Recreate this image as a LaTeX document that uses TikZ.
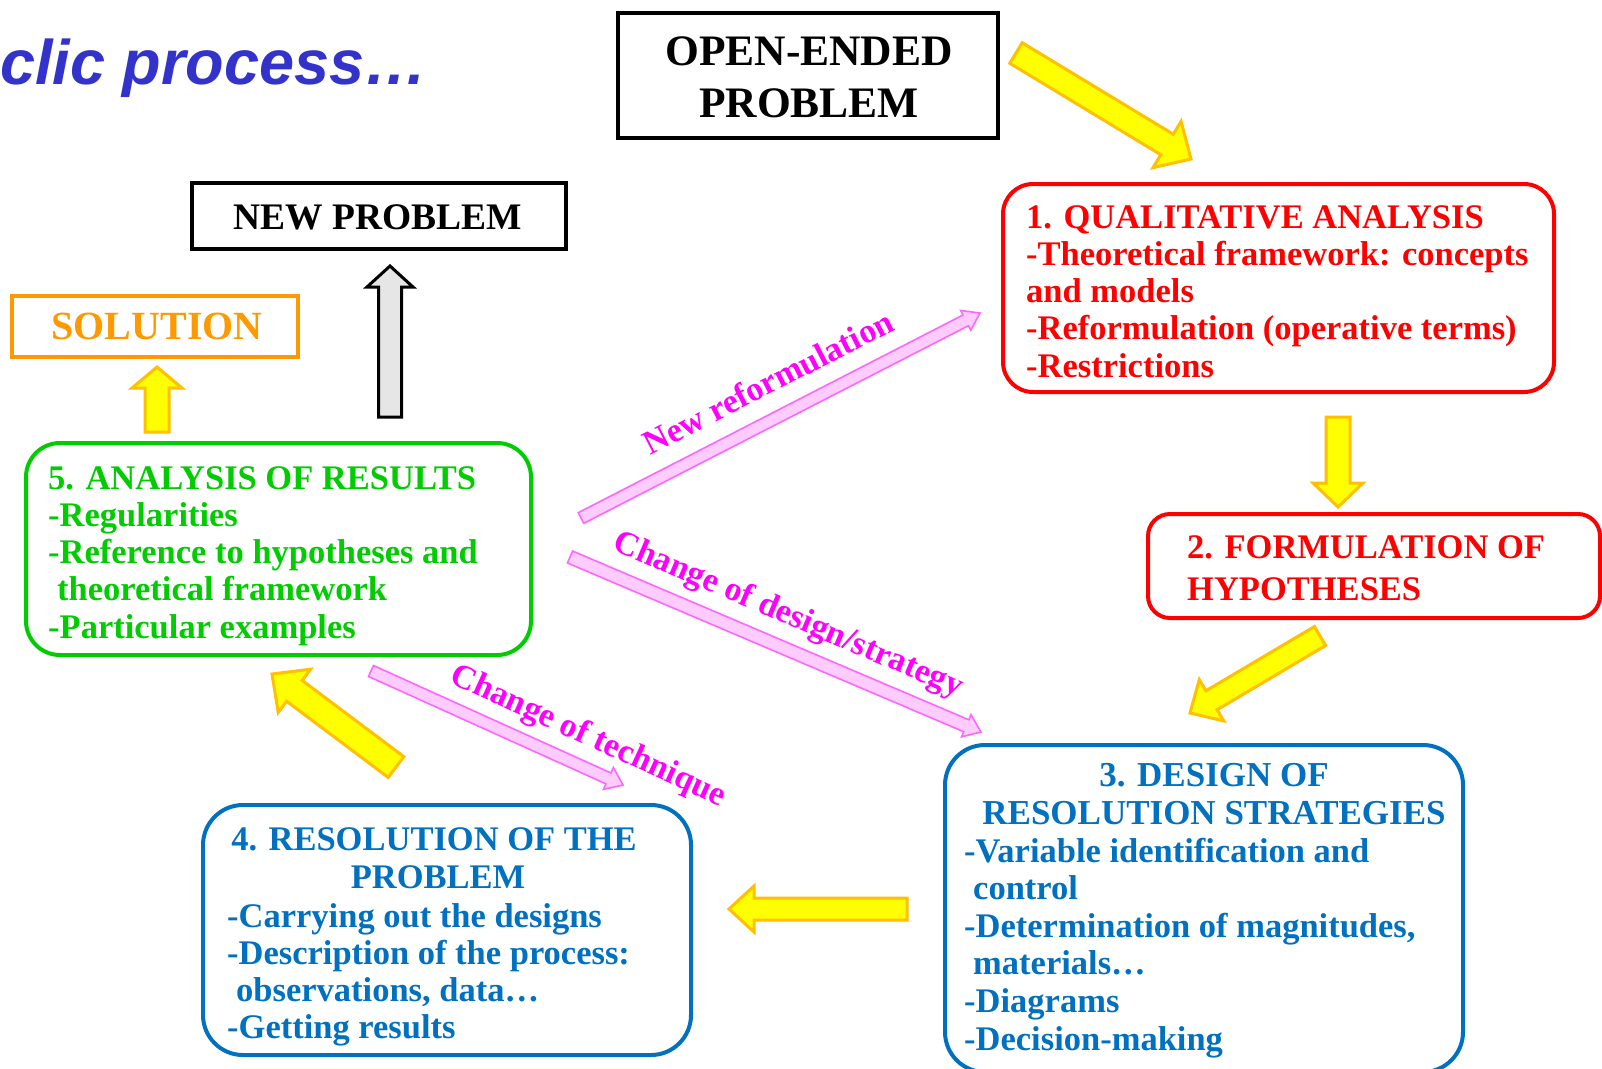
\documentclass[tikz,border=0pt]{standalone}
\usepackage{fontspec}
\setmainfont{Liberation Serif}
\newfontfamily\titlefont{Liberation Sans}
\usetikzlibrary{calc}
\definecolor{myred}{HTML}{FF0000}
\definecolor{myblue}{HTML}{0070C0}
\definecolor{mygreen}{HTML}{00CC00}
\definecolor{myorange}{HTML}{FF9900}
\definecolor{yelfill}{HTML}{FFFF00}
\definecolor{yeledge}{HTML}{FFC000}
\definecolor{pinkfill}{HTML}{FFCCFF}
\definecolor{pinkedge}{HTML}{FF66FF}
\definecolor{magtext}{HTML}{FF00FF}
\definecolor{titleblue}{HTML}{3333CC}
\definecolor{greyfill}{HTML}{E6E6E6}
% #1 style, #2 tail, #3 tip, #4 half shaft, #5 half head, #6 head length
\newcommand\blockarrow[6]{%
  \coordinate (tmpN) at ($(#3)!#6!(#2)$);
  \draw[#1] ($(#2)!#4!90:(#3)$) -- ($(tmpN)!#4!90:(#3)$) -- ($(tmpN)!#5!90:(#3)$)
    -- (#3) -- ($(tmpN)!#5!-90:(#3)$) -- ($(tmpN)!#4!-90:(#3)$) -- ($(#2)!#4!-90:(#3)$) -- cycle;
}
\begin{document}
\begin{tikzpicture}[x=1pt,y=-1pt,
  txt/.style={inner sep=0pt, font=\fontsize{34.5}{37.3}\selectfont\bfseries},
  hdr/.style={inner sep=0pt, font=\fontsize{43.5}{52}\selectfont\bfseries},
  plainbox/.style={draw, line width=3.5pt, inner sep=0pt},
  roundbox/.style={draw, line width=4pt, rounded corners=32pt, inner sep=0pt},
  yarrow/.style={fill=yelfill, draw=yeledge, line width=3pt, line join=miter},
  garrow/.style={fill=greyfill, draw=black, line width=3pt, line join=miter},
  parrow/.style={fill=pinkfill, draw=pinkedge, line width=1.6pt, line join=miter},
  plabel/.style={inner sep=0pt, text=magtext, font=\fontsize{34}{40}\selectfont\bfseries}
]
\useasboundingbox (0,0) rectangle (1602,1068);
\clip (0,0) rectangle (1602,1068);
\fill[white] (0,0) rectangle (1602,1068);

% title
\node[inner sep=0pt, anchor=base west, text=titleblue, font=\titlefont\fontsize{63}{70}\selectfont\bfseries\itshape] (title) at (0,84) {clic process…};

% boxes
\node[plainbox, minimum width=380pt, minimum height=125pt] (open) at (808,75.5) {};
\node[hdr, anchor=base] (open1) at (809,65) {OPEN-ENDED};
\node[hdr, anchor=base] (open2) at (809,117) {PROBLEM};

\node[plainbox, minimum width=374pt, minimum height=66pt] (newp) at (379,216) {};
\node[inner sep=0pt, anchor=base, font=\fontsize{37.5}{40}\selectfont\bfseries] (newpt) at (378,229) {NEW PROBLEM};

\node[plainbox, draw=myorange, minimum width=286pt, minimum height=61pt] (sol) at (155,326.5) {};
\node[inner sep=0pt, anchor=base, text=myorange, font=\fontsize{40}{42}\selectfont\bfseries] (solt) at (157,339.5) {SOLUTION};

% box 1
\node[roundbox, draw=myred, rounded corners=30pt, minimum width=551pt, minimum height=208pt] (b1) at (1278.5,288) {};
\foreach \t [count=\i] in {1. QUALITATIVE ANALYSIS,{-Theoretical framework: concepts},and models,-Reformulation (operative terms),-Restrictions}
  \node[txt, text=myred, anchor=base west] (b1-\i) at (1026,{228+(\i-1)*37.3}) {\t};

% box 2
\node[roundbox, draw=myred, rounded corners=22pt, minimum width=452pt, minimum height=104pt] (b2) at (1374,566) {};
\node[txt, text=myred, anchor=base west] (b2-1) at (1187,558) {2. FORMULATION OF};
\node[txt, text=myred, anchor=base west] (b2-2) at (1187,600) {HYPOTHESES};

% box 3
\node[roundbox, draw=myblue, rounded corners=40pt, minimum width=518pt, minimum height=327pt] (b3) at (1204,908.5) {};
\node[txt, text=myblue, anchor=base, font=\fontsize{35}{37.3}\selectfont\bfseries] (b3-t1) at (1214,786) {3. DESIGN OF};
\node[txt, text=myblue, anchor=base, font=\fontsize{35}{37.3}\selectfont\bfseries] (b3-t2) at (1214,824) {RESOLUTION STRATEGIES};
\foreach \t [count=\i] in {-Variable identification and,\hspace*{9pt}control,{-Determination of magnitudes,},\hspace*{9pt}materials…,-Diagrams,-Decision-making}
  \node[txt, text=myblue, anchor=base west] (b3-\i) at (964,{862+(\i-1)*37.6}) {\t};

% box 4
\node[roundbox, draw=myblue, rounded corners=40pt, minimum width=488pt, minimum height=250pt] (b4) at (447,930) {};
\node[txt, text=myblue, anchor=base] (b4-t1) at (434,850) {4. RESOLUTION OF THE};
\node[txt, text=myblue, anchor=base] (b4-t2) at (438,888) {PROBLEM};
\foreach \t [count=\i] in {-Carrying out the designs,-Description of the process:,{\hspace*{9pt}observations, data…},-Getting results}
  \node[txt, text=myblue, anchor=base west] (b4-\i) at (227,{927+(\i-1)*37.2}) {\t};

% box 5
\node[roundbox, draw=mygreen, rounded corners=34pt, minimum width=505pt, minimum height=212pt] (b5) at (278.5,549) {};
\foreach \t [count=\i] in {5. ANALYSIS OF RESULTS,-Regularities,-Reference to hypotheses and,\hspace*{9pt}theoretical framework,-Particular examples}
  \node[txt, text=mygreen, anchor=base west] (b5-\i) at (48,{489+(\i-1)*37.3}) {\t};

% yellow block arrows
\coordinate (y1s) at (1016,53);   \coordinate (y1e) at (1191,159);
\coordinate (y2s) at (1338,417);  \coordinate (y2e) at (1338,507);
\coordinate (y3s) at (1320,636);  \coordinate (y3e) at (1190,713);
\coordinate (y4s) at (907,909);   \coordinate (y4e) at (729,909);
\coordinate (y5s) at (396,767);   \coordinate (y5e) at (272,674);
\coordinate (y6s) at (157,432);   \coordinate (y6e) at (157,367);
\coordinate (g1s) at (390,417);   \coordinate (g1e) at (390,266);
\blockarrow{yarrow}{y1s}{y1e}{12pt}{27pt}{28pt}
\blockarrow{yarrow}{y2s}{y2e}{12pt}{25pt}{24pt}
\blockarrow{yarrow}{y3s}{y3e}{11pt}{24pt}{25pt}
\blockarrow{yarrow}{y4s}{y4e}{11pt}{23pt}{25pt}
\blockarrow{yarrow}{y5s}{y5e}{13pt}{27pt}{28pt}
\blockarrow{yarrow}{y6s}{y6e}{12pt}{25pt}{21pt}
\blockarrow{garrow}{g1s}{g1e}{11.5pt}{23pt}{21pt}

% pink arrows
\coordinate (p1s) at (581,518);   \coordinate (p1e) at (980,313);
\coordinate (p2s) at (570,557);   \coordinate (p2e) at (981,732);
\coordinate (p3s) at (371,671);   \coordinate (p3e) at (623,785);
\blockarrow{parrow}{p1s}{p1e}{6pt}{11pt}{16pt}
\blockarrow{parrow}{p2s}{p2e}{6.5pt}{12pt}{16pt}
\blockarrow{parrow}{p3s}{p3e}{6pt}{12pt}{16pt}

\node[plabel, rotate=27.2] (l1) at (768,382) {New reformulation};
\node[plabel, rotate=-23.1] (l2) at (788,616) {Change of design/strategy};
\node[plabel, rotate=-24.5] (l3) at (588,737) {Change of technique};
\end{tikzpicture}
\end{document}
